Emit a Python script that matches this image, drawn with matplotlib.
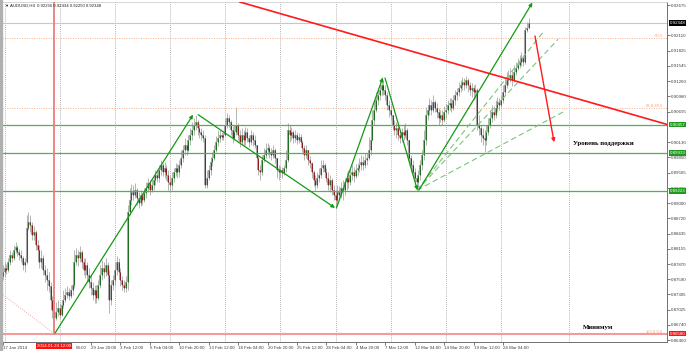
import matplotlib
matplotlib.use('Agg')
import matplotlib.pyplot as plt
import matplotlib.patches as mpatches
import numpy as np

plt.rcParams['font.family'] = ['Liberation Sans', 'DejaVu Sans']

# AUDUSD H4 bars, bar 0 = 17 Jan 2014 20:00, last bar = 26 Mar 2014
first_open = 0.8765
closes = [
    .8772, .8780, .8776, .8791, .8804, .8798, .8813, .8819, .8809, .8804,
    .8798, .8785, .8791, .8854, .8865, .8859, .8841, .8846, .8822, .8813,
    .8791, .8798, .8776, .8767, .8757, .8746, .8720, .8702, .8687, .8698,
    .8706, .8693, .8711, .8720, .8730, .8735, .8728, .8739, .8748, .8791,
    .8804, .8798, .8809, .8791, .8776, .8785, .8767, .8754, .8743, .8730,
    .8739, .8724, .8748, .8767, .8780, .8772, .8785, .8767, .8720, .8748,
    .8757, .8776, .8791, .8772, .8757, .8748, .8743, .8754, .8884, .8906,
    .8921, .8915, .8924, .8910, .8900, .8915, .8906, .8919, .8928, .8937,
    .8924, .8934, .8943, .8952, .8947, .8962, .8971, .8958, .8965, .8952,
    .8939, .8934, .8947, .8958, .8965, .8958, .8971, .8984, .8999, .9008,
    .8999, .9017, .9026, .9036, .9045, .9050, .9039, .9032, .9026, .9021,
    .8934, .8947, .8962, .8976, .8984, .8999, .9013, .9021, .9026, .9023,
    .9026, .9045, .9058, .9050, .9036, .9021, .9032, .9045, .9026, .9013,
    .9026, .9017, .9032, .9021, .9013, .9026, .9017, .9008, .8984, .8962,
    .8958, .8980, .8989, .8999, .9002, .8995, .8989, .8999, .8984, .8962,
    .8958, .8962, .8956, .8965, .8980, .9036, .9026, .9032, .9021, .9026,
    .9017, .9023, .9013, .9002, .8989, .8999, .8980, .8974, .8958, .8943,
    .8934, .8947, .8952, .8965, .8971, .8958, .8947, .8934, .8943, .8924,
    .8915, .8906, .8921, .8915, .8928, .8924, .8939, .8947, .8939, .8952,
    .8958, .8950, .8962, .8965, .8971, .8976, .8971, .8980, .8984, .8999,
    .9017, .9054, .9073, .9091, .9101, .9110, .9119, .9110, .9101, .9082,
    .9073, .9064, .9045, .9036, .9039, .9026, .9021, .9032, .9026, .9036,
    .9017, .8984, .8971, .8958, .8947, .8939, .8952, .8971, .8989, .9017,
    .9064, .9073, .9082, .9073, .9088, .9077, .9069, .9058, .9064, .9054,
    .9069, .9073, .9082, .9086, .9077, .9091, .9101, .9106, .9114, .9119,
    .9125, .9119, .9128, .9119, .9110, .9114, .9106, .9110, .9045, .9039,
    .9026, .9021, .9017, .9032, .9045, .9058, .9069, .9064, .9077, .9088,
    .9082, .9091, .9106, .9119, .9128, .9132, .9138, .9128, .9143, .9151,
    .9156, .9162, .9169, .9162, .9221, .92256, .92348,
]
highs = [
    .8785, .8791, .8787, .8798, .8813, .8809, .8822, .8828, .8822, .8815,
    .8813, .8802, .8798, .8878, .8884, .8878, .8865, .8858, .8850, .8832,
    .8822, .8813, .8804, .8785, .8780, .8772, .8754, .8728, .8720, .8717,
    .8720, .8715, .8720, .8739, .8743, .8746, .8743, .8748, .8761, .8813,
    .8817, .8813, .8820, .8813, .8798, .8798, .8791, .8780, .8767, .8754,
    .8748, .8748, .8757, .8785, .8795, .8791, .8798, .8791, .8776, .8757,
    .8767, .8791, .8802, .8798, .8780, .8765, .8757, .8765, .8897, .8928,
    .8935, .8934, .8937, .8928, .8921, .8924, .8919, .8928, .8939, .8947,
    .8943, .8947, .8952, .8962, .8962, .8971, .8980, .8974, .8976, .8971,
    .8962, .8952, .8958, .8965, .8974, .8973, .8980, .8999, .9008, .9021,
    .9017, .9026, .9039, .9050, .9058, .9064, .9054, .9047, .9039, .9036,
    .9026, .8962, .8971, .8986, .8995, .9008, .9024, .9036, .9036, .9032,
    .9032, .9058, .9067, .9064, .9054, .9043, .9045, .9079, .9049, .9036,
    .9039, .9036, .9041, .9039, .9026, .9036, .9032, .9026, .9008, .8989,
    .8971, .8989, .9002, .9012, .9012, .9008, .9002, .9008, .9002, .8984,
    .8971, .8969, .8967, .8971, .8999, .9049, .9045, .9041, .9036, .9036,
    .9032, .9030, .9028, .9017, .9008, .9008, .8999, .8987, .8976, .8962,
    .8952, .8958, .8965, .8980, .8980, .8974, .8965, .8958, .8952, .8947,
    .8934, .8924, .8934, .8932, .8939, .8943, .8947, .8958, .8962, .8965,
    .8971, .8967, .8973, .8974, .8984, .8989, .8987, .8993, .8993, .9023,
    .9026, .9073, .9091, .9106, .9114, .9125, .9134, .9128, .9119, .9106,
    .9091, .9082, .9064, .9054, .9050, .9045, .9036, .9039, .9045, .9049,
    .9039, .9017, .8989, .8980, .8965, .8952, .8962, .8980, .8999, .9036,
    .9079, .9082, .9095, .9091, .9101, .9091, .9086, .9077, .9073, .9073,
    .9080, .9084, .9091, .9095, .9095, .9101, .9110, .9114, .9125, .9128,
    .9134, .9132, .9136, .9132, .9125, .9123, .9119, .9121, .9114, .9064,
    .9045, .9039, .9036, .9045, .9058, .9073, .9082, .9080, .9091, .9097,
    .9095, .9101, .9119, .9132, .9143, .9147, .9151, .9147, .9156, .9162,
    .9169, .9175, .9180, .9175, .9227, .9236, .92434,
]
lows = [
    .8757, .8763, .8769, .8772, .8785, .8791, .8795, .8808, .8802, .8795,
    .8791, .8776, .8772, .8787, .8850, .8846, .8832, .8832, .8813, .8798,
    .8780, .8780, .8767, .8754, .8739, .8735, .8711, .8687, .8658, .8683,
    .8691, .8687, .8691, .8706, .8717, .8724, .8720, .8724, .8730, .8743,
    .8785, .8783, .8791, .8780, .8767, .8761, .8754, .8743, .8730, .8720,
    .8715, .8715, .8720, .8743, .8757, .8761, .8765, .8757, .8696, .8711,
    .8739, .8748, .8767, .8761, .8746, .8739, .8735, .8735, .8739, .8878,
    .8897, .8906, .8910, .8897, .8891, .8895, .8897, .8902, .8910, .8921,
    .8915, .8921, .8924, .8934, .8939, .8939, .8952, .8950, .8947, .8943,
    .8924, .8921, .8924, .8939, .8950, .8947, .8948, .8965, .8976, .8989,
    .8989, .8995, .9008, .9017, .9026, .9036, .9026, .9021, .9017, .9013,
    .8928, .8928, .8943, .8952, .8969, .8980, .8995, .9006, .9013, .9017,
    .9017, .9024, .9039, .9041, .9026, .9012, .9017, .9026, .9017, .9004,
    .9008, .9008, .9008, .9013, .9004, .9008, .9006, .9002, .8976, .8952,
    .8943, .8952, .8976, .8984, .8989, .8984, .8980, .8984, .8974, .8947,
    .8943, .8948, .8947, .8952, .8958, .8976, .9013, .9017, .9012, .9013,
    .9010, .9012, .9006, .8995, .8980, .8984, .8971, .8965, .8947, .8932,
    .8924, .8928, .8939, .8947, .8958, .8950, .8939, .8924, .8921, .8915,
    .8906, .8891, .8897, .8906, .8910, .8906, .8915, .8924, .8928, .8934,
    .8943, .8939, .8947, .8952, .8958, .8962, .8962, .8965, .8971, .8980,
    .8989, .9017, .9045, .9069, .9082, .9091, .9101, .9101, .9091, .9073,
    .9060, .9054, .9036, .9026, .9021, .9017, .9012, .9013, .9017, .9021,
    .9008, .8976, .8958, .8947, .8934, .8924, .8930, .8943, .8962, .8980,
    .9008, .9054, .9064, .9064, .9069, .9069, .9058, .9045, .9050, .9045,
    .9050, .9058, .9065, .9073, .9069, .9073, .9082, .9091, .9099, .9106,
    .9110, .9110, .9114, .9106, .9101, .9097, .9091, .9095, .9036, .9026,
    .9013, .9008, .8995, .9008, .9026, .9039, .9050, .9054, .9058, .9069,
    .9073, .9077, .9086, .9101, .9114, .9119, .9125, .9117, .9125, .9138,
    .9147, .9151, .9154, .9154, .9158, .9217, .92250,
]

# time-axis labels (bar index, text)
date_ticks = [0, 48, 64, 80, 96, 112, 128, 144, 160, 176, 192, 208, 224, 240, 256, 272]
date_labels = ['17 Jan 2014', '29 Jan 20:00', '3 Feb 12:00',
               '6 Feb 04:00', '10 Feb 20:00', '13 Feb 12:00', '18 Feb 04:00', '20 Feb 20:00',
               '25 Feb 12:00', '28 Feb 04:00', '4 Mar 20:00', '7 Mar 12:00', '12 Mar 04:00',
               '14 Mar 20:00', '19 Mar 12:00', '24 Mar 04:00']
# "27 Jan 04:00" at bar 32: only its time part shows beside the red time box
hidden_tick = 32
hidden_tail = '04:00'
# price scale (0.92390 and 0.90415 are hidden behind the price boxes)
price_ticks = [0.92675, 0.92110, 0.91825, 0.91545, 0.91260, 0.90980, 0.90695,
               0.90130, 0.89850, 0.89565, 0.89280, 0.89000, 0.88720, 0.88435,
               0.88155, 0.87870, 0.87590, 0.87305, 0.87025, 0.86740, 0.86460]
week_grid = [1, 31, 61, 91, 121, 151, 181, 211, 241, 271, 308]

header = 'AUDUSD,H4  0.92256 0.92434 0.92250 0.92348'
bid = 0.92348
support = [0.90457, 0.89933, 0.89223]
minimum = 0.86580
fibo_levels = [0.92068, 0.90773]
fibo_labels = ['50.0', '61.8-38.2']
fibo_base = [(-10, 0.8756), (28, 0.8658)]
low_bar = 28
low_time = '2014.01.24 12:00'

green_arrows = [((28.5, 0.8659), (103.5, 0.9064)),
                ((106.3, 0.9064), (180.7, 0.8891)),
                ((181.5, 0.8891), (206.7, 0.9133)),
                ((207.9, 0.9132), (225.5, 0.8924)),
                ((226.3, 0.8924), (288.0, 0.9272))]
fan_origin = (225.3, 0.8924)
fan_ends = [(293.8, 0.9217), (302.0, 0.9204), (304.7, 0.9069)]
trend_line = [(129.0, 0.9273), (361.2, 0.9046)]
red_arrow = ((289.4, 0.9210), (299.8, 0.9013))

# ---- build candles
n = len(closes)
x = np.arange(n)
c = np.array(closes)
o = np.array([first_open] + closes[:-1])
h = np.maximum(np.array(highs), np.maximum(o, c))
l = np.minimum(np.array(lows), np.minimum(o, c))

fig = plt.figure(figsize=(6.88, 3.51), dpi=100)
fig.patch.set_facecolor('white')
ax = fig.add_axes([2 / 688, 9 / 351, 665 / 688, 340 / 351])
ax.set_xlim(-0.38, 361.2)
ax.set_ylim(0.86423, 0.92731)

for g in week_grid:
    ax.axvline(g, color='#9a9a9a', lw=0.6, ls=(0, (1, 1.5)), zorder=1)

ax.axhline(bid, color='#c8c8c8', lw=0.8, zorder=1.5)
for lv in fibo_levels:
    ax.axhline(lv, color='#f6b08a', lw=0.7, ls=(0, (1, 1.5)), zorder=1.5)

# candles: grey wicks / outline, dark green or dark red body core
ax.vlines(x, l, h, color='#a8a8a8', lw=0.6, zorder=2)
ax.vlines(x, np.minimum(o, c), np.maximum(o, c), color='#a8a8a8', lw=1.5, zorder=2)
up = c >= o
ax.vlines(x[up], o[up], c[up], color='#1d6b1d', lw=0.7, zorder=3)
ax.vlines(x[~up], c[~up], o[~up], color='#8a1c1c', lw=0.7, zorder=3)

# objects
for lv in support:
    ax.axhline(lv, color='#56ad56', lw=0.9, zorder=4)
ax.axhline(minimum, color='#f39a9a', lw=1.5, zorder=4)
ax.plot([low_bar, low_bar], [minimum, 0.92731], color='#f07c7c', lw=1.3, zorder=4)
ax.plot(*zip(*fibo_base), color='#f2a0a0', lw=0.7, ls=(0, (1, 1.5)), zorder=4)

for e in fan_ends:
    ax.plot([fan_origin[0], e[0]], [fan_origin[1], e[1]], color='#7cc47c', lw=0.8,
            ls=(0, (5, 3)), zorder=5)

ax.plot(*zip(*trend_line), color='#ff1a1a', lw=1.2, zorder=5)

for a, b in green_arrows:
    ax.annotate('', xy=b, xytext=a,
                arrowprops=dict(arrowstyle='-|>', color='#139a13', lw=0.9,
                                mutation_scale=5, shrinkA=0, shrinkB=0), zorder=6)
ax.annotate('', xy=red_arrow[1], xytext=red_arrow[0],
            arrowprops=dict(arrowstyle='-|>', color='#ff1a1a', lw=1.0,
                            mutation_scale=5, shrinkA=0, shrinkB=0), zorder=6)

ax.text(310, 0.9011, 'Уровень поддержки', fontsize=4.9, fontweight='bold',
        family=['Liberation Serif', 'DejaVu Serif'], ha='left', va='center', zorder=7)
ax.text(315.6, 0.8670, 'Минимум', fontsize=4.9, fontweight='bold',
        family=['Liberation Serif', 'DejaVu Serif'], ha='left', va='center', zorder=7)

tr = ax.get_yaxis_transform()
for lv, lab in zip(fibo_levels + [minimum], fibo_labels + ['100.0-0.0']):
    ax.text(0.994, lv, lab, transform=tr, ha='right', va='bottom', fontsize=3,
            color='#f4a080', zorder=7)

# axes styling
for s in ['top', 'left']:
    ax.spines[s].set_color('#d0d0d0')
    ax.spines[s].set_linewidth(0.6)
for s in ['right', 'bottom']:
    ax.spines[s].set_color('#707070')
    ax.spines[s].set_linewidth(0.7)

ax.yaxis.tick_right()
ax.set_yticks(price_ticks)
ax.set_yticklabels([f'{p:.5f}' for p in price_ticks])
ax.tick_params(axis='y', labelsize=3.2, length=2, width=0.5, pad=1, colors='#404040')
ax.set_xticks(date_ticks + [hidden_tick])
ax.set_xticklabels(date_labels + [''], ha='left')
ax.tick_params(axis='x', labelsize=3.2, length=2, width=0.5, pad=1, colors='#404040')

# visible tail of the label partly covered by the time box
ax.annotate(hidden_tail, xy=(hidden_tick, 0), xycoords=ax.get_xaxis_transform(),
            xytext=(10.5, -3.2), textcoords='offset points', ha='left', va='top',
            fontsize=3.2, color='#404040', annotation_clip=False)

def price_box(p, fc):
    ax.text(1.004, p, f'{p:.5f}', transform=tr, ha='left', va='center', fontsize=3.2,
            color='white', bbox=dict(boxstyle='square,pad=0.2', fc=fc, ec='none'),
            zorder=20, clip_on=False)

price_box(bid, '#000000')
for lv in support:
    price_box(lv, '#1f9a1f')
price_box(minimum, '#ff1010')

ax.text(low_bar, -0.012, low_time, transform=ax.get_xaxis_transform(), ha='center',
        va='center', fontsize=3.2, color='white',
        bbox=dict(boxstyle='square,pad=0.2', fc='#ff1010', ec='none'), zorder=20, clip_on=False)

fig.text(4 / 688, 1 - 6 / 351, '▼', fontsize=3, va='center', color='#202020')
fig.text(10 / 688, 1 - 6 / 351, header, fontsize=3.1, va='center', color='#202020')
fig.patches.append(mpatches.Rectangle((0, 0), 2 / 688, 1, transform=fig.transFigure,
                                      color='#b0b0b0', zorder=0))

fig.savefig('out.png', dpi=100)
